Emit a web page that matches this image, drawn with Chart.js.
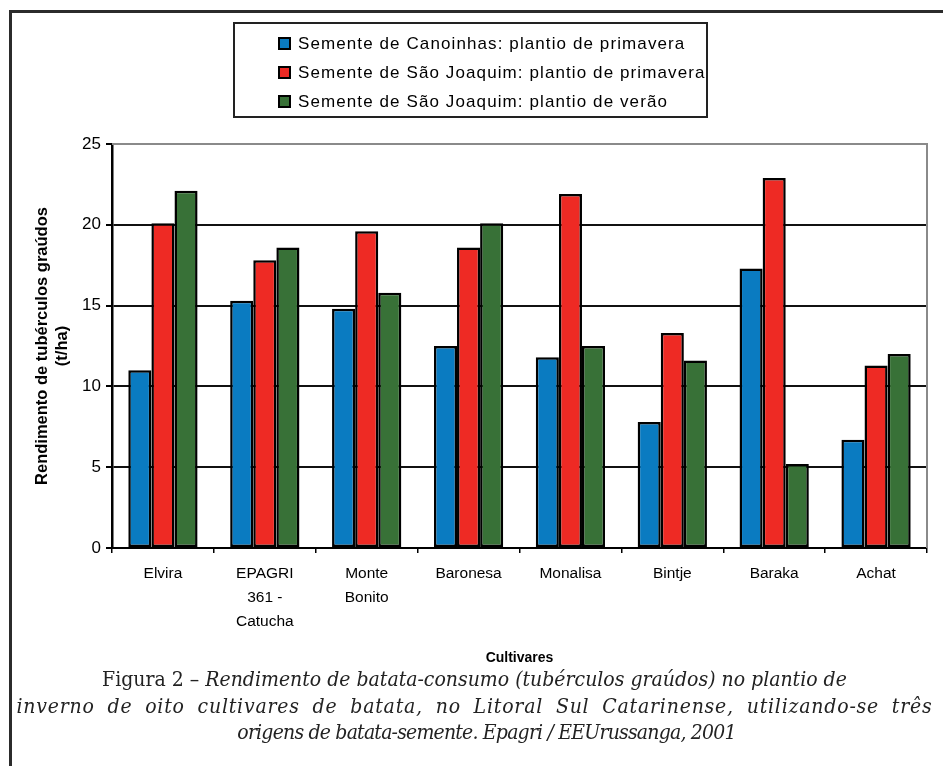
<!DOCTYPE html>
<html>
<head>
<meta charset="utf-8">
<script src="https://cdn.jsdelivr.net/npm/chart.js@4/dist/chart.umd.min.js"></script>
<style>
  html, body { margin: 0; padding: 0; background: #fff; }
  #wrap { position: relative; width: 943px; height: 766px; overflow: hidden; }
  #frame { position: absolute; left: 9px; top: 10px; width: 960px; height: 800px;
           border-left: 3px solid #2b2b2b; border-top: 3px solid #2b2b2b; }
  #chart { position: absolute; left: 0; top: 0; }
  #caption { position: absolute; left: 0; top: 666px; width: 943px; text-align: center;
             font-family: "DejaVu Serif Condensed", "DejaVu Serif", serif; font-size: 21px;
             line-height: 26.5px; color: #222; white-space: nowrap; }
  #caption div { padding-left: 6px; }
  #caption .l2 { letter-spacing: 0.8px; word-spacing: 6px; }
  #caption .l3 { letter-spacing: -0.8px; word-spacing: 0; padding-left: 30px; }
</style>
</head>
<body>
<div id="wrap">
  <div id="frame"></div>
  <canvas id="chart" width="943" height="680"></canvas>
  <div id="caption">
    <div class="l1">Figura 2 – <i>Rendimento de batata-consumo (tubérculos graúdos) no plantio de</i></div>
    <div class="l2"><i>inverno de oito cultivares de batata, no Litoral Sul Catarinense, utilizando-se três</i></div>
    <div class="l3"><i>origens de batata-semente. Epagri / EEUrussanga, 2001</i></div>
  </div>
</div>
<script>
// data (t/ha)
const cultivares = ['Elvira', ['EPAGRI', '361 -', 'Catucha'], ['Monte', 'Bonito'], 'Baronesa', 'Monalisa', 'Bintje', 'Baraka', 'Achat'];
const canoinhasPrimavera = [11.0, 15.3, 14.8, 12.5, 11.8, 7.8, 17.3, 6.7];
const saoJoaquimPrimavera = [20.1, 17.8, 19.6, 18.6, 21.9, 13.3, 22.9, 11.3];
const saoJoaquimVerao = [22.1, 18.6, 15.8, 20.1, 12.5, 11.6, 5.2, 12.0];
const yTicks = [0, 5, 10, 15, 20, 25];

const FONT = '"Liberation Sans", Arial, sans-serif';

// boxed legend at the top, one series per row
const legendBox = {
  id: 'legendBox',
  afterDraw(chart) {
    const ctx = chart.ctx;
    ctx.save();
    ctx.lineWidth = 2;
    ctx.strokeStyle = '#222';
    ctx.strokeRect(234, 23, 473, 94);
    ctx.font = '17px ' + FONT;
    ctx.letterSpacing = '1.1px';
    ctx.textBaseline = 'middle';
    chart.data.datasets.forEach((ds, i) => {
      const y = 44 + i * 29;
      ctx.fillStyle = ds.backgroundColor;
      ctx.fillRect(279, y - 6, 11, 11);
      ctx.lineWidth = 2;
      ctx.strokeStyle = '#000';
      ctx.strokeRect(279, y - 6, 11, 11);
      ctx.fillStyle = '#000';
      ctx.fillText(ds.label, 298, y);
    });
    ctx.restore();
  }
};

// grey top / right edge of the plot area
const plotEdge = {
  id: 'plotEdge',
  beforeDatasetsDraw(chart) {
    const { ctx, chartArea: a } = chart;
    ctx.save();
    ctx.strokeStyle = '#8a8a8a';
    ctx.lineWidth = 2;
    ctx.beginPath();
    ctx.moveTo(a.left, a.top);
    ctx.lineTo(a.right, a.top);
    ctx.lineTo(a.right, a.bottom);
    ctx.stroke();
    ctx.restore();
  }
};

const bar = (label, data, color) => ({
  label, data,
  backgroundColor: color,
  borderColor: '#000',
  borderWidth: 2.5,
  borderSkipped: false,
  categoryPercentage: 0.68,
  barPercentage: 1
});

new Chart(document.getElementById('chart'), {
  type: 'bar',
  data: {
    labels: cultivares,
    datasets: [
      bar('Semente de Canoinhas: plantio de primavera', canoinhasPrimavera, '#0a7bc1'),
      bar('Semente de São Joaquim: plantio de primavera', saoJoaquimPrimavera, '#ee2a24'),
      bar('Semente de São Joaquim: plantio de verão', saoJoaquimVerao, '#387137')
    ]
  },
  options: {
    responsive: false,
    animation: false,
    layout: { padding: { left: 0, right: 16, top: 144, bottom: 0 } },
    plugins: { legend: { display: false }, tooltip: { enabled: false } },
    scales: {
      x: {
        afterFit: (s) => { s.height = 132; },
        border: { color: '#000', width: 2 },
        grid: { offset: true, drawOnChartArea: false, color: '#000', tickLength: 5, lineWidth: 1.5 },
        ticks: { color: '#000', font: { family: FONT, size: 15.5, lineHeight: 1.55 }, padding: 9, maxRotation: 0, autoSkip: false },
        title: { display: true, text: 'Cultivares', color: '#000', font: { family: FONT, size: 14, weight: 'bold' }, padding: { top: 0, bottom: 13 } }
      },
      y: {
        min: 0,
        max: 25,
        afterFit: (s) => { s.width = 112; },
        afterBuildTicks: (s) => { s.ticks = yTicks.map(v => ({ value: v })); },
        border: { color: '#000', width: 2.5 },
        grid: {
          color: (c) => c.tick && c.tick.value === 25 ? '#8a8a8a' : '#111',
          tickColor: '#000',
          lineWidth: 2,
          tickLength: 6
        },
        ticks: { color: '#000', font: { family: FONT, size: 17 }, padding: 5 },
        title: {
          display: true,
          text: ['Rendimento de tubérculos graúdos', '(t/ha)'],
          color: '#000',
          font: { family: FONT, size: 16.5, weight: 'bold', lineHeight: 1.25 },
          padding: { top: 32, bottom: 0 }
        }
      }
    }
  },
  plugins: [plotEdge, legendBox]
});
</script>
</body>
</html>
